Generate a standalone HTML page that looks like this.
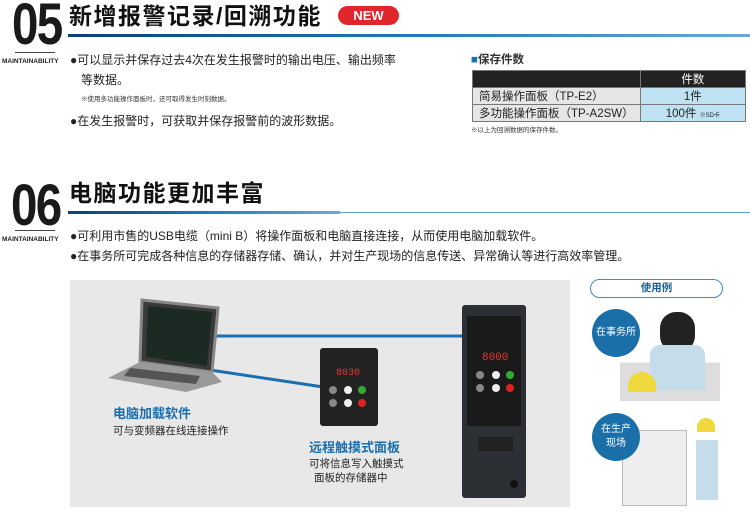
<!DOCTYPE html>
<html><head><meta charset="utf-8"><style>
*{margin:0;padding:0;box-sizing:border-box}
body{width:750px;height:524px;background:#fff;position:relative;overflow:hidden;font-family:"Liberation Sans","Noto Sans CJK SC",sans-serif;color:#222}
.a{position:absolute;white-space:nowrap}
.big{font-family:"Liberation Sans Narrow","Liberation Sans",sans-serif;font-weight:bold;font-size:58px;line-height:58px;color:#1a1a1a;letter-spacing:-2px;transform:scaleX(0.82);transform-origin:left top}
.t{font-size:23px;font-weight:bold;line-height:26px;color:#111;letter-spacing:1.5px}
.m{font-size:6.5px;font-weight:bold;color:#222}
.b{font-size:12px;line-height:14px;color:#222}
.s{font-size:6.5px;color:#333}
.line{position:absolute;height:3px;background:linear-gradient(90deg,#0d3f7a,#1a7ac4 50%,#6aa9d8)}
.line2{position:absolute;height:1px;background:#5a9dd0}
td{border:1px solid #777;font-size:11.5px;height:16px;padding:0 6px}
</style></head><body>
<div class="a big" style="left:12px;top:-4px">05</div>
<div class="a t" style="left:69px;top:3px">新增报警记录/回溯功能</div>
<div class="a" style="left:338px;top:6px;width:61px;height:19px;border-radius:10px;background:#e0262b;color:#fff;font-weight:bold;font-size:13px;line-height:19px;text-align:center">NEW</div>
<div class="line" style="left:68px;top:34px;width:682px"></div>
<div class="a" style="left:15px;top:52px;width:40px;height:1px;background:#444"></div>
<div class="a m" style="left:2px;top:58px">MAINTAINABILITY</div>
<div class="a b" style="left:70px;top:53px">●可以显示并保存过去4次在发生报警时的输出电压、输出频率</div>
<div class="a b" style="left:81px;top:73px">等数据。</div>
<div class="a s" style="left:81px;top:93px">※使用多功能操作面板时，还可取得发生时刻数据。</div>
<div class="a b" style="left:70px;top:114px">●在发生报警时，可获取并保存报警前的波形数据。</div>

<div class="a" style="left:471px;top:51px;font-size:11.5px;font-weight:bold;color:#333"><span style="color:#1a6fb0">■</span>保存件数</div>
<table class="a" style="left:472px;top:70px;width:274px;border-collapse:collapse">
<tr><td style="background:#222;width:155px"></td><td style="background:#222;color:#fff;text-align:center">件数</td></tr>
<tr><td style="background:#e6e6e6">简易操作面板（TP-E2）</td><td style="background:#bfe2f2;text-align:center">1件</td></tr>
<tr><td style="background:#e6e6e6">多功能操作面板（TP-A2SW）</td><td style="background:#bfe2f2;text-align:center">100件 <span style="font-size:6px">※SD卡</span></td></tr>
</table>
<div class="a s" style="left:471px;top:124px">※以上为回溯数据的保存件数。</div>

<div class="a big" style="left:11px;top:177px">06</div>
<div class="a t" style="left:69px;top:180px">电脑功能更加丰富</div>
<div class="line" style="left:68px;top:211px;width:272px"></div>
<div class="line2" style="left:340px;top:212px;width:410px"></div>
<div class="a" style="left:15px;top:230px;width:40px;height:1px;background:#444"></div>
<div class="a m" style="left:2px;top:236px">MAINTAINABILITY</div>
<div class="a b" style="left:70px;top:229px">●可利用市售的USB电缆（mini B）将操作面板和电脑直接连接，从而使用电脑加载软件。</div>
<div class="a b" style="left:70px;top:249px">●在事务所可完成各种信息的存储器存储、确认，并对生产现场的信息传送、异常确认等进行高效率管理。</div>

<div class="a" style="left:70px;top:280px;width:500px;height:227px;background:#e8e8e8"></div>
<svg class="a" style="left:0;top:0" width="750" height="524">
<line x1="215" y1="336" x2="465" y2="336" stroke="#1a6fb0" stroke-width="3"/>
<line x1="210" y1="370" x2="330" y2="388" stroke="#1a6fb0" stroke-width="3"/>
<polygon points="142,300 218,308 212,372 140,362" fill="#3a3a3a" stroke="#888" stroke-width="3"/>
<polygon points="148,306 212,312 207,366 146,357" fill="#1c2a24"/>
<polygon points="140,362 212,372 222,382 186,392 108,378" fill="#9a9a9a"/>
<polygon points="130,368 200,376 196,384 124,376" fill="#555"/>
<rect x="320" y="348" width="58" height="78" rx="3" fill="#222"/>
<text x="336" y="375" font-size="10" fill="#e33" font-family="Liberation Mono">8030</text>
<circle cx="333" cy="390" r="4" fill="#888"/><circle cx="348" cy="390" r="4" fill="#eee"/><circle cx="362" cy="390" r="4" fill="#3a3"/>
<circle cx="333" cy="403" r="4" fill="#888"/><circle cx="348" cy="403" r="4" fill="#eee"/><circle cx="362" cy="403" r="4" fill="#d22"/>
<rect x="462" y="305" width="64" height="193" rx="3" fill="#2c2f33"/>
<rect x="467" y="316" width="54" height="110" fill="#1a1a1a"/>
<text x="482" y="360" font-size="11" fill="#e33" font-family="Liberation Mono">8000</text>
<circle cx="480" cy="375" r="4" fill="#888"/><circle cx="496" cy="375" r="4" fill="#eee"/><circle cx="510" cy="375" r="4" fill="#3a3"/>
<circle cx="480" cy="388" r="4" fill="#888"/><circle cx="496" cy="388" r="4" fill="#eee"/><circle cx="510" cy="388" r="4" fill="#d22"/>
<rect x="478" y="437" width="35" height="14" fill="#222"/>
<circle cx="514" cy="484" r="4" fill="#111"/>
</svg>
<div class="a" style="left:113px;top:403px;font-size:13px;color:#1a6fb0;font-weight:bold">电脑加载软件</div>
<div class="a" style="left:113px;top:423px;font-size:10.5px;color:#222">可与变频器在线连接操作</div>
<div class="a" style="left:309px;top:437px;font-size:13px;color:#1a6fb0;font-weight:bold">远程触摸式面板</div>
<div class="a" style="left:309px;top:456px;font-size:10.5px;color:#222">可将信息写入触摸式</div>
<div class="a" style="left:314px;top:470px;font-size:10.5px;color:#222">面板的存储器中</div>

<div class="a" style="left:590px;top:279px;width:133px;height:19px;border:1.5px solid #3a8bc8;border-radius:10px;text-align:center;font-size:10.5px;line-height:16px;font-weight:bold;color:#1a5f98">使用例</div>
<div class="a" style="left:620px;top:305px;width:100px;height:96px;background:linear-gradient(#fff 60%,#ddd 60%)"></div>
<div class="a" style="left:660px;top:312px;width:35px;height:40px;background:#222;border-radius:16px"></div>
<div class="a" style="left:650px;top:345px;width:55px;height:45px;background:#c5dceb;border-radius:10px 10px 0 0"></div>
<div class="a" style="left:628px;top:372px;width:28px;height:20px;background:#f0d93c;border-radius:14px 14px 0 0"></div>
<div class="a" style="left:620px;top:420px;width:105px;height:86px;background:#fff"></div>
<div class="a" style="left:622px;top:430px;width:65px;height:76px;background:#eee;border:1px solid #bbb"></div>
<div class="a" style="left:696px;top:440px;width:22px;height:60px;background:#c5dceb"></div>
<div class="a" style="left:697px;top:418px;width:18px;height:14px;background:#f0d93c;border-radius:9px 9px 0 0"></div>
<div class="a" style="left:592px;top:309px;width:48px;height:48px;border-radius:50%;background:#1a6fa8;color:#fff;font-size:10px;line-height:48px;text-align:center">在事务所</div>
<div class="a" style="left:592px;top:413px;width:48px;height:48px;border-radius:50%;background:#1a6fa8;color:#fff;font-size:10px;line-height:14px;text-align:center;padding-top:10px">在生产<br>现场</div>
</body></html>
